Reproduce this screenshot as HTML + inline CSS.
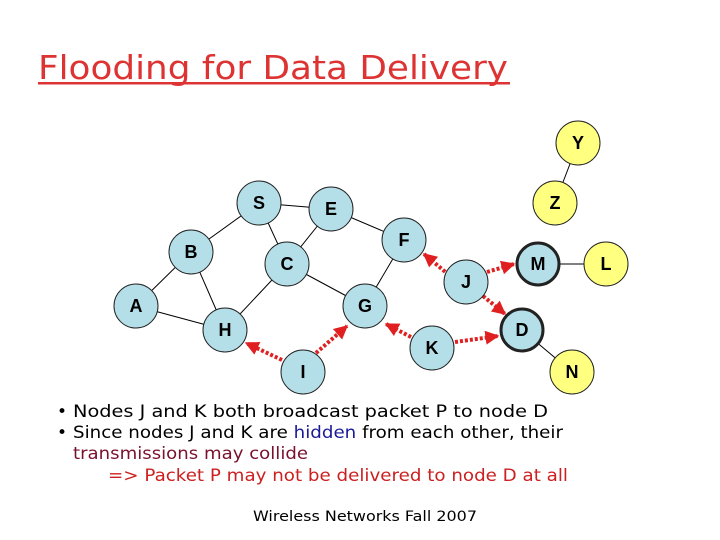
<!DOCTYPE html>
<html><head><meta charset="utf-8"><style>
html,body{margin:0;padding:0;background:#fff;}
svg{display:block;}
</style></head><body>
<svg width="720" height="540" viewBox="0 0 720 540" xmlns="http://www.w3.org/2000/svg">
<defs>
<marker id="ah" viewBox="0 0 10 10" refX="9" refY="5" markerWidth="3.5" markerHeight="3.5" orient="auto"><path d="M0,0 L10,5 L0,10 z" fill="#e02020"/></marker>
</defs>
<text x="38" y="79" font-family="DejaVu Sans, sans-serif" font-size="33" fill="#dd3333" textLength="470" lengthAdjust="spacingAndGlyphs">Flooding for Data Delivery</text>
<rect x="38" y="82" width="472" height="2.5" fill="#dd3333"/>
<g stroke="#000" stroke-width="1">
<line x1="259" y1="203" x2="331" y2="209"/>
<line x1="259" y1="203" x2="191" y2="252"/>
<line x1="259" y1="203" x2="287" y2="264"/>
<line x1="331" y1="209" x2="287" y2="264"/>
<line x1="331" y1="209" x2="404" y2="240"/>
<line x1="191" y1="252" x2="136" y2="306"/>
<line x1="191" y1="252" x2="225" y2="330"/>
<line x1="136" y1="306" x2="225" y2="330"/>
<line x1="287" y1="264" x2="225" y2="330"/>
<line x1="287" y1="264" x2="365" y2="306"/>
<line x1="404" y1="240" x2="365" y2="306"/>
<line x1="578" y1="143" x2="555" y2="203"/>
<line x1="538" y1="264" x2="606" y2="264"/>
<line x1="522" y1="330" x2="572" y2="372"/>
</g>
<g stroke="#e02020" stroke-width="4" stroke-dasharray="3,2" marker-end="url(#ah)">
<line x1="449" y1="275" x2="424" y2="254"/>
<line x1="487" y1="272" x2="514" y2="264"/>
<line x1="483" y1="296" x2="505" y2="314"/>
<line x1="411" y1="337" x2="386" y2="324"/>
<line x1="455" y1="342" x2="498" y2="336"/>
<line x1="282" y1="360" x2="246" y2="343"/>
<line x1="316" y1="353" x2="347" y2="326"/>
</g>
<g stroke="#222" stroke-width="1" fill="#b5dfe8">
<circle cx="259" cy="203" r="22"/>
<circle cx="331" cy="209" r="22"/>
<circle cx="404" cy="240" r="22"/>
<circle cx="191" cy="252" r="22"/>
<circle cx="287" cy="264" r="22"/>
<circle cx="466" cy="282" r="22"/>
<circle cx="136" cy="306" r="22"/>
<circle cx="365" cy="306" r="22"/>
<circle cx="225" cy="330" r="22"/>
<circle cx="432" cy="348" r="22"/>
<circle cx="303" cy="372" r="22"/>
<circle cx="538" cy="264" r="21" stroke-width="3"/>
<circle cx="522" cy="330" r="21" stroke-width="3"/>
</g>
<g stroke="#222" stroke-width="1" fill="#ffff80">
<circle cx="578" cy="143" r="22"/>
<circle cx="555" cy="203" r="22"/>
<circle cx="606" cy="264" r="22"/>
<circle cx="572" cy="372" r="22"/>
</g>
<g font-family="Liberation Sans, sans-serif" font-weight="bold" font-size="18" text-anchor="middle" fill="#000">
<text x="259" y="209">S</text><text x="331" y="215">E</text><text x="404" y="246">F</text>
<text x="191" y="258">B</text><text x="287" y="270">C</text><text x="466" y="288">J</text>
<text x="136" y="312">A</text><text x="365" y="312">G</text><text x="225" y="336">H</text>
<text x="432" y="354">K</text><text x="303" y="378">I</text><text x="538" y="270">M</text>
<text x="522" y="336">D</text><text x="578" y="149">Y</text><text x="555" y="209">Z</text>
<text x="606" y="270">L</text><text x="572" y="378">N</text>
</g>
<g font-family="DejaVu Sans, sans-serif" font-size="17">
<text x="57" y="417" fill="#000">•</text>
<text x="73" y="417" fill="#000" textLength="475" lengthAdjust="spacingAndGlyphs">Nodes J and K both broadcast packet P to node D</text>
<text x="57" y="438" fill="#000">•</text>
<text x="73" y="438" fill="#000" textLength="490" lengthAdjust="spacingAndGlyphs">Since nodes J and K are <tspan fill="#1a1a99">hidden</tspan> from each other, their</text>
<text x="73" y="459" fill="#7a1030" textLength="235" lengthAdjust="spacingAndGlyphs">transmissions may collide</text>
<text x="108" y="481" fill="#cc1f1f" textLength="460" lengthAdjust="spacingAndGlyphs">=&gt; Packet P may not be delivered to node D at all</text>
</g>
<text x="253" y="521" font-family="DejaVu Sans, sans-serif" font-size="14" fill="#000" textLength="224" lengthAdjust="spacingAndGlyphs">Wireless Networks Fall 2007</text>
</svg>
</body></html>
